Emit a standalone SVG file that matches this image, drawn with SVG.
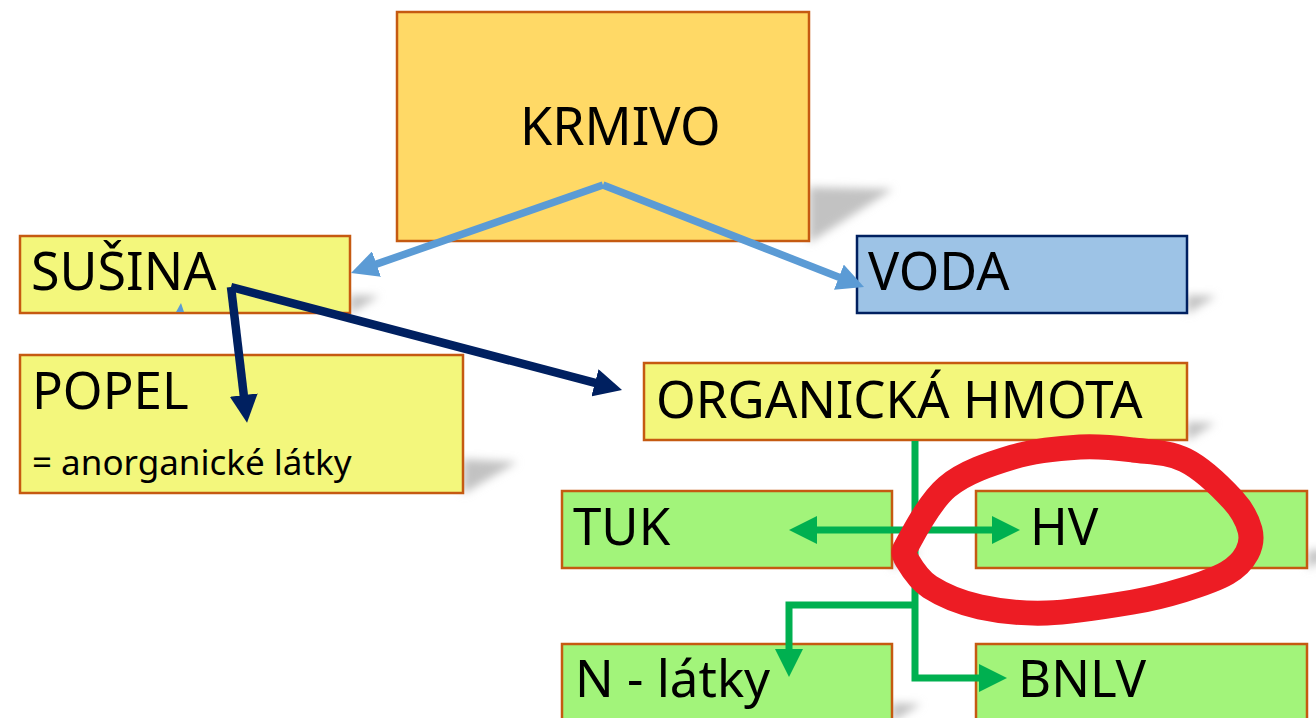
<svg xmlns="http://www.w3.org/2000/svg" width="1316" height="718" viewBox="0 0 1316 718">
<style>
.box{stroke:#C55A11;stroke-width:2.5}
.krm{fill:#FFD966}
.yel{fill:#F3F77C}
.grn{fill:#A2F47A}
.blu{fill:#9DC3E6;stroke:#002060;stroke-width:2.5}
.t{font-family:"Noto Sans","Open Sans","Liberation Sans",sans-serif;fill:#000}
.big{font-size:51px}
.sm{font-size:35px}
.sh{fill:#c2c2c2;filter:url(#blur)}
.cb{stroke:#5B9BD5;stroke-width:7.5;fill:none}
.cn{stroke:#002060;stroke-width:8.5;fill:none}
.cg{stroke:#00B050;stroke-width:7;fill:none}
</style>
<defs>
<filter id="blur" x="-50%" y="-50%" width="200%" height="200%"><feGaussianBlur stdDeviation="4"/></filter>
<marker id="ab" markerUnits="userSpaceOnUse" markerWidth="27" markerHeight="27" refX="7" refY="13.5" orient="auto"><path d="M0,0 L27,13.5 L0,27 z" fill="#5B9BD5"/></marker>
<marker id="an" markerUnits="userSpaceOnUse" markerWidth="28" markerHeight="28" refX="8" refY="14" orient="auto"><path d="M0,0 L28,14 L0,28 z" fill="#002060"/></marker>
<marker id="ag" markerUnits="userSpaceOnUse" markerWidth="28" markerHeight="28" refX="8" refY="14" orient="auto-start-reverse"><path d="M0,0 L28,14 L0,28 z" fill="#00B050"/></marker>
</defs>
<rect width="1316" height="718" fill="#fff"/>
<g id="shadows">
<polygon class="sh" points="809,187 893,189 809,243"/>
<polygon class="sh" points="350,295 379,296 350,314"/>
<polygon class="sh" points="1187,295 1216,296 1187,314"/>
<polygon class="sh" points="463,459 517,462 463,494"/>
<polygon class="sh" points="1187,422 1215,423 1187,441"/>
<polygon class="sh" points="892,550 921,551 892,569"/>
<polygon class="sh" points="1308,550 1337,551 1308,569"/>
<polygon class="sh" points="892,703 921,704 892,722"/>
</g>
<g id="krmivo"><rect class="box krm" x="397" y="12" width="412" height="229"/><text class="t big" x="520" y="145" style="font-size:52px">KRMIVO</text></g>
<g id="susina"><rect class="box yel" x="20" y="236" width="330" height="77"/><text class="t big" x="31" y="290" style="font-size:52px">SUŠINA</text></g>
<g id="voda"><rect class="blu" x="857" y="236" width="330" height="77"/><text class="t big" x="868" y="290" style="font-size:52px">VODA</text></g>
<g id="popel"><rect class="box yel" x="20" y="355" width="443" height="138"/><text class="t big" x="32" y="409">POPEL</text><text class="t sm" x="32" y="475">= anorganické látky</text></g>
<g id="organicka"><rect class="box yel" x="644" y="363" width="543" height="77"/><text class="t big" x="656" y="418">ORGANICKÁ HMOTA</text></g>
<g id="tuk"><rect class="box grn" x="562" y="491" width="330" height="77"/><text class="t big" x="573" y="545">TUK</text></g>
<g id="hv"><rect class="box grn" x="976" y="491" width="331" height="77"/><text class="t big" x="1030" y="545">HV</text></g>
<g id="nlatky"><rect class="box grn" x="562" y="644" width="330" height="82"/><text class="t big" x="575" y="697">N - látky</text></g>
<g id="bnlv"><rect class="box grn" x="976" y="644" width="331" height="82"/><text class="t big" x="1018" y="697">BNLV</text></g>
<g id="connectors">
<path class="cb" d="M603,185 L369.9,266.4" marker-end="url(#ab)"/>
<path class="cb" d="M603,185 L845.4,279.7" marker-end="url(#ab)"/>
<polygon points="176,312 184,312 181,303" fill="#5B9BD5"/>
<path class="cn" d="M231,287 L244.7,403" marker-end="url(#an)"/>
<path class="cn" d="M231,287 L602.7,384.9" marker-end="url(#an)"/>
<path class="cg" d="M809,530 L1000,530" marker-start="url(#ag)" marker-end="url(#ag)"/>
<path class="cg" d="M915,441 V678 H987" marker-end="url(#ag)"/>
<path class="cg" d="M915,605 H789 V657" marker-end="url(#ag)"/>
</g>
<g id="highlight">
<path d="M906,547 C912.7,534.8 929.2,502 947,487 C964.8,472 990.8,463.7 1013,457 C1035.2,450.3 1060,448.2 1080,447 C1100,445.8 1115.5,447.8 1133,450 C1150.5,452.2 1168.3,451.7 1185,460 C1201.7,468.3 1222.2,488.3 1233,500 C1243.8,511.7 1247.7,521.2 1250,530 C1252.3,538.8 1250.8,545.8 1247,553 C1243.2,560.2 1237.7,566.8 1227,573 C1216.3,579.2 1198.7,585.2 1183,590 C1167.3,594.8 1155.7,598.2 1133,602 C1110.3,605.8 1072.5,612.2 1047,613 C1021.5,613.8 999.5,611.3 980,607 C960.5,602.7 942.2,594.8 930,587 C917.8,579.2 911,566.7 907,560 C903,553.3 903,552 906,547 Z" fill="none" stroke="#ED1C24" stroke-width="25" stroke-linejoin="round"/>
</g>
</svg>
